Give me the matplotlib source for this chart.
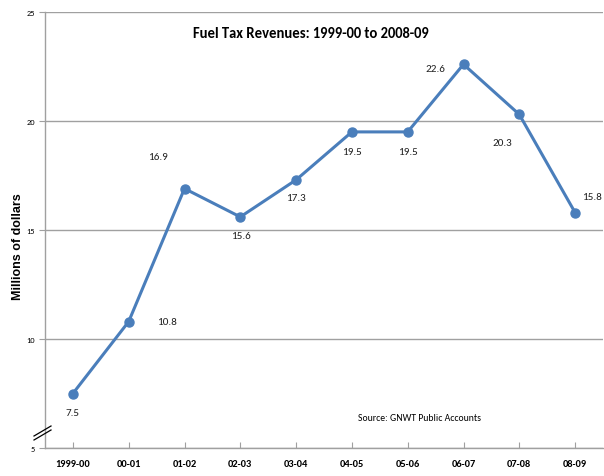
import matplotlib
matplotlib.use("Agg")
import matplotlib.pyplot as plt
from matplotlib.lines import Line2D

categories = ["1999-00", "00-01", "01-02", "02-03", "03-04", "04-05", "05-06", "06-07", "07-08", "08-09"]
values = [7.5, 10.8, 16.9, 15.6, 17.3, 19.5, 19.5, 22.6, 20.3, 15.8]
labels = ["7.5", "10.8", "16.9", "15.6", "17.3", "19.5", "19.5", "22.6", "20.3", "15.8"]
yticks = [5, 10, 15, 20, 25]

# label offsets in pixels (dx, dy upward)
offsets_px = [(0, -19), (38, 0), (-27, 32), (1, -19), (0, -18), (0, -20), (0, -20), (-28, -4), (-17, -28), (17, 16)]

plt.rcParams['font.family'] = ['Carlito', 'DejaVu Sans']

fig = plt.figure(figsize=(6.04, 4.77), dpi=100)
ax = fig.add_axes([45/604, 1 - 449/477, (603-45)/604, (449-13)/477])

x = list(range(len(categories)))
blue = "#4A7EBB"
ax.plot(x, values, color=blue, lw=2.2, marker='o', ms=6.5, mfc=blue, mec=blue, zorder=3)

for i, (v, lab) in enumerate(zip(values, labels)):
    dx, dy = offsets_px[i]
    ax.annotate(lab, (i, v), xytext=(dx*0.72, dy*0.72), textcoords='offset points',
                ha='center', va='center', fontsize=8, color='#222222')

ax.set_xlim(-0.5, 9.5)
ax.set_ylim(5, 25)
ax.set_yticks(yticks)
ax.set_yticklabels([str(t) for t in yticks], fontsize=6)
ax.set_xticks(x)
ax.set_xticklabels(categories, fontsize=7.5, fontweight='bold')
ax.tick_params(axis='x', length=4, color='#A0A0A0', pad=8, direction='in')
ax.tick_params(axis='y', length=4, color='#A0A0A0', pad=3)

ax.yaxis.grid(True, color='#A0A0A0', lw=1)
ax.set_axisbelow(True)
for s in ['top', 'right']:
    ax.spines[s].set_visible(False)
for s in ['left', 'bottom']:
    ax.spines[s].set_color('#A0A0A0')
    ax.spines[s].set_linewidth(1)

# axis break marker
for off in (0, 4):
    fig.add_artist(Line2D([34/604, 51/604], [1-(437+off)/477, 1-(427+off)/477],
                          color='black', lw=0.9, transform=fig.transFigure))

fig.text(18/604, 1-247/477, "Millions of dollars", rotation=90, ha='center', va='center',
         fontsize=9, fontweight='bold', family=['Liberation Sans', 'DejaVu Sans'])
fig.text(311/604, 1-34/477, "Fuel Tax Revenues: 1999-00 to 2008-09", ha='center', va='center',
         fontsize=10.5, fontweight='bold')
fig.text(420/604, 1-419/477, "Source: GNWT Public Accounts", ha='center', va='center', fontsize=7)

fig.savefig("out.png", dpi=100)
